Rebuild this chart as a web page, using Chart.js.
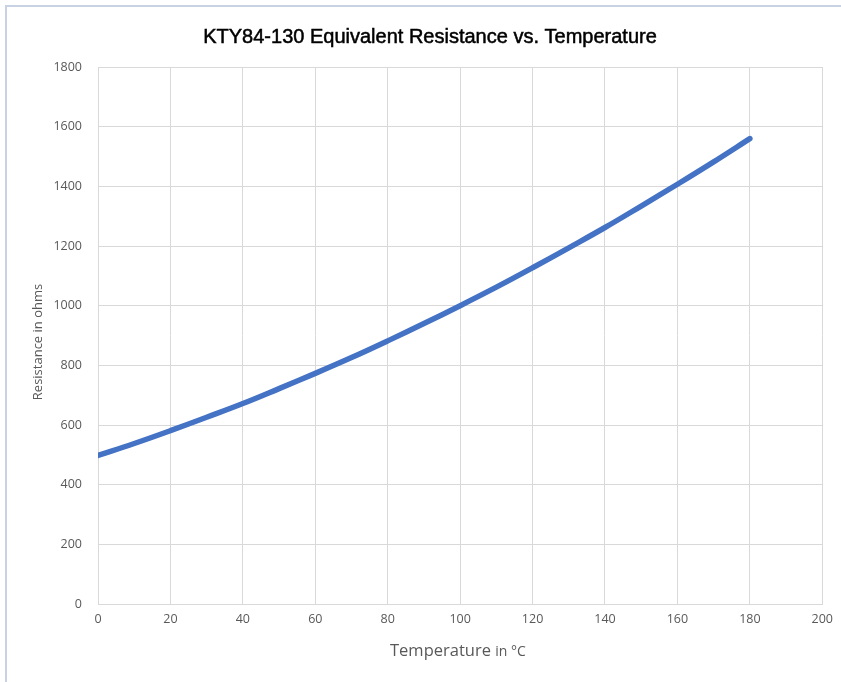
<!DOCTYPE html>
<html>
<head>
<meta charset="utf-8">
<script src="https://cdn.jsdelivr.net/npm/chart.js@4"></script>
<style>
html,body{margin:0;padding:0;background:#fff;}
canvas{display:block;}
</style>
</head>
<body>
<canvas id="c" width="841" height="682"></canvas>
<script>
const temperatures = [0,10,20,30,40,50,60,70,80,90,100,110,120,130,140,150,160,170,180];
const resistances  = [498,538,581,626,672,722,773,826,882,940,1000,1062,1127,1194,1262,1334,1407,1482,1560];
const xTicks = [0,20,40,60,80,100,120,140,160,180,200];
const yTicks = [0,200,400,600,800,1000,1200,1400,1600,1800];
const titleText = 'KTY84-130 Equivalent Resistance vs. Temperature';
const yTitle = 'Resistance in ohms';
const xTitleMain = 'Temperature';
const xTitleUnit = 'in °C';

const points = temperatures.map((t,i)=>({x:t,y:resistances[i]}));

const decor = {
  id:'decor',
  beforeDraw(chart){
    const ctx = chart.ctx;
    ctx.save();
    ctx.fillStyle='#fff';
    ctx.fillRect(0,0,chart.width,chart.height);
    ctx.strokeStyle='#c9d2e3';
    ctx.lineWidth=2;
    ctx.beginPath();
    ctx.moveTo(6,682); ctx.lineTo(6,6); ctx.lineTo(841,6);
    ctx.stroke();
    ctx.restore();
  },
  afterDraw(chart){
    const ctx = chart.ctx;
    const a = chart.chartArea;
    ctx.save();
    // title
    ctx.fillStyle='#000';
    ctx.strokeStyle='#000';
    ctx.lineWidth=0.5;
    ctx.font='20px "Liberation Sans", Arial, sans-serif';
    ctx.textAlign='center';
    ctx.textBaseline='middle';
    ctx.fillText(titleText, 430, 37);
    ctx.strokeText(titleText, 430, 37);
    // y title
    ctx.fillStyle='#595959';
    ctx.font='13px "Open Sans", sans-serif';
    ctx.translate(38, 342);
    ctx.rotate(-Math.PI/2);
    ctx.fillText(yTitle,0,0);
    ctx.restore();
    // x title
    ctx.save();
    ctx.fillStyle='#595959';
    ctx.textBaseline='alphabetic';
    ctx.textAlign='left';
    const f1='16.5px "Open Sans", sans-serif', f2='14px "Open Sans", sans-serif';
    ctx.font=f1; const w1=ctx.measureText(xTitleMain+' ').width;
    ctx.font=f2; const w2=ctx.measureText(xTitleUnit).width;
    const x0 = 390;
    ctx.font=f1; ctx.fillText(xTitleMain+' ', x0, 656);
    ctx.font=f2; ctx.fillText(xTitleUnit, x0+w1, 656);
    ctx.restore();
  }
};

new Chart(document.getElementById('c'), {
  type:'line',
  data:{datasets:[{
    data:points,
    borderColor:'#4472C4',
    borderWidth:5.5,
    pointRadius:0,
    tension:0.4,
    fill:false,
    borderCapStyle:'round'
  }]},
  options:{
    responsive:false,
    animation:false,
    layout:{padding:{top:67,right:18,bottom:0,left:0}},
    plugins:{legend:{display:false},title:{display:false},tooltip:{enabled:false}},
    scales:{
      x:{
        type:'linear', min:0, max:200,
        afterBuildTicks(s){ s.ticks = xTicks.map(v=>({value:v})); },
        afterFit(s){ s.height = 78; },
        grid:{color:'#d9d9d9', drawTicks:false, lineWidth:1},
        border:{color:'#d9d9d9'},
        ticks:{color:'#595959', font:{family:'"Open Sans", sans-serif', size:12.5}, padding:8, maxRotation:0,
               callback:(v)=>String(v)}
      },
      y:{
        min:0, max:1800,
        afterBuildTicks(s){ s.ticks = yTicks.map(v=>({value:v})); },
        afterFit(s){ s.width = 98; },
        grid:{color:'#d9d9d9', drawTicks:false, lineWidth:1},
        border:{color:'#d9d9d9'},
        ticks:{color:'#595959', font:{family:'"Open Sans", sans-serif', size:12.5}, padding:16,
               callback:(v)=>String(v)}
      }
    }
  },
  plugins:[decor]
});
</script>
</body>
</html>
